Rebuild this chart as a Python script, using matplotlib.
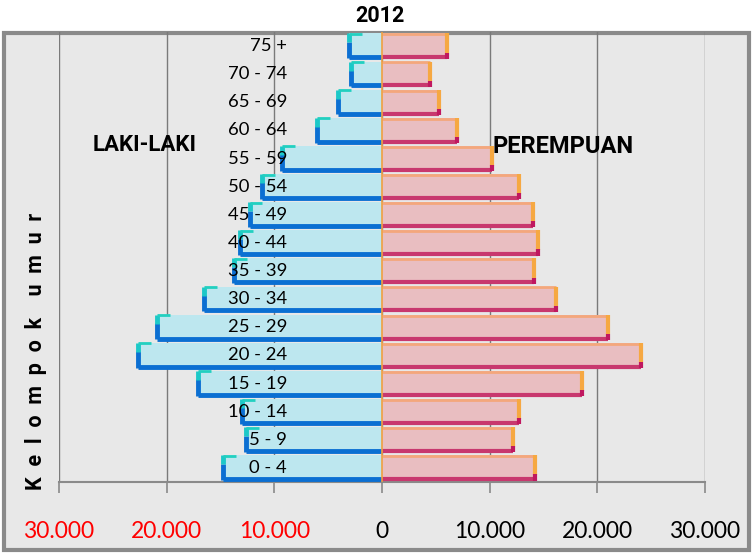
import matplotlib
matplotlib.use("Agg")
import matplotlib.pyplot as plt
from matplotlib.patches import Rectangle
from matplotlib.ticker import FixedLocator, FuncFormatter
import matplotlib.transforms as mtransforms

# ---- data ----
age_groups = ["0 - 4", "5 - 9", "10 - 14", "15 - 19", "20 - 24", "25 - 29",
              "30 - 34", "35 - 39", "40 - 44", "45 - 49", "50 - 54", "55 - 59",
              "60 - 64", "65 - 69", "70 - 74", "75 +"]
male = [14800, 12600, 13000, 17100, 22650, 20900, 16550, 13700,
        13200, 12300, 11150, 9300, 6000, 4100, 2900, 3100]
female = [14200, 12150, 12750, 18600, 24100, 21000, 16150, 14100,
          14500, 14000, 12700, 10200, 7000, 5300, 4450, 6050]
x_ticks = [-30000, -20000, -10000, 0, 10000, 20000, 30000]
title = "2012"

plt.rcParams['font.family'] = ['Lato', 'DejaVu Sans']
BOLD = ['Roboto', 'DejaVu Sans']

W, H = 753, 553
fig = plt.figure(figsize=(W / 100, H / 100), dpi=100)
fig.patch.set_facecolor("white")

# outer chart frame
frame = Rectangle((4 / W, 3 / H), (749 - 4) / W, (520 - 3) / H,
                  transform=fig.transFigure, facecolor="#e8e8e8",
                  edgecolor="#8a8a8a", linewidth=3, zorder=-5)
fig.patches.append(frame)

ax = fig.add_axes([59 / W, (553 - 482) / H, (705 - 59) / W, (482 - 32) / H])
ax.set_facecolor("none")

y = list(range(len(age_groups)))
h = 0.9
neg_male = [-v for v in male]

ax.barh(y, neg_male, height=h, color="#bde7ef", edgecolor="none", zorder=2)
ax.barh(y, female, height=h, color="#e9bec1", edgecolor="none", zorder=2)

# bar borders (derived from data)
for yi, m, f in zip(y, male, female):
    bot, top = yi - h / 2, yi + h / 2
    # male: bottom + left dark blue, teal at top-left
    ax.hlines(bot + 0.05, -m, 0, color="#0b6fd2", lw=3.5, zorder=3)
    ax.vlines(-m, bot + 0.02, top - 0.3, color="#0b6fd2", lw=3.5, zorder=3)
    ax.vlines(-m, top - 0.32, top, color="#1cc8c8", lw=3.5, zorder=3)
    ax.hlines(top - 0.02, -m, -m + 1200, color="#22d0c0", lw=2, zorder=3)
    # female: top light orange, right orange, bottom magenta
    ax.hlines(top - 0.03, 0, f, color="#f4a77c", lw=2, zorder=3)
    ax.vlines(f, bot + 0.2, top, color="#f6a842", lw=3, zorder=3)
    ax.hlines(bot + 0.05, 0, f, color="#c8386e", lw=3, zorder=3)
    ax.vlines(f, bot, bot + 0.22, color="#c01860", lw=3, zorder=3)

ax.axvline(0, color="#f0a040", lw=1.2, zorder=3.5)

ax.set_xlim(-30000, 30000)
ax.set_ylim(-0.5, len(age_groups) - 0.5)

ax.xaxis.set_major_locator(FixedLocator(x_ticks))
ax.xaxis.set_major_formatter(FuncFormatter(
    lambda v, p: f"{abs(int(v)):,}".replace(",", ".")))
ax.tick_params(axis="x", length=8, width=1.2, color="#8a8a8a",
               labelsize=16.5, pad=20)
for lbl, v in zip(ax.get_xticklabels(), x_ticks):
    lbl.set_color("red" if v < 0 else "black")

ax.grid(axis="x", color="#7a7a7a", lw=1)
ax.set_axisbelow(True)

# category labels, drawn above the bars, offset left of the zero line
ax.set_yticks([])
offset = mtransforms.ScaledTranslation(-95 / 100, 0, fig.dpi_scale_trans)
for yi, lab in zip(y, age_groups):
    ax.text(0, yi, lab, ha="right", va="center", fontsize=13.3,
            transform=ax.transData + offset, zorder=6)

for s in ["top", "right", "left"]:
    ax.spines[s].set_visible(False)
ax.spines["bottom"].set_color("#8a8a8a")
ax.spines["bottom"].set_linewidth(1.5)

fig.text(380 / W, 1 - 15.5 / H, title, ha="center", va="center",
         fontsize=15.5, fontweight="bold", family=BOLD)
fig.text(197 / W, 1 - 145 / H, "LAKI-LAKI", ha="right", va="center",
         fontsize=16, fontweight="bold", family=BOLD)
fig.text(492 / W, 1 - 146.5 / H, "PEREMPUAN", ha="left", va="center",
         fontsize=17, fontweight="bold", family=BOLD)
fig.text(36 / W, 1 - 351 / H, "K  e  l  o  m  p  o  k    u  m  u  r",
         ha="center", va="center", rotation=90, fontsize=15.5,
         fontweight="bold", family=BOLD)

fig.savefig("out.png", dpi=100)
